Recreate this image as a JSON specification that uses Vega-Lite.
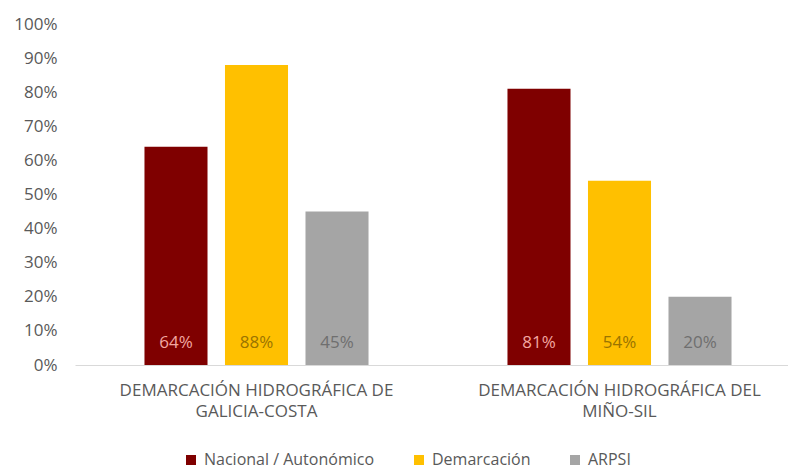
{
  "$schema": "https://vega.github.io/schema/vega-lite/v6.json",
  "width": 713,
  "height": 341,
  "autosize": {"type": "none"},
  "padding": {"left": 75, "top": 24, "right": 0, "bottom": 107},
  "background": "white",
  "config": {
    "view": {"stroke": null},
    "font": "Open Sans",
    "axisY": {
      "title": null,
      "domain": false,
      "ticks": false,
      "grid": false,
      "values": [0, 0.1, 0.2, 0.3, 0.4, 0.5, 0.6, 0.7, 0.8, 0.9, 1],
      "format": ".0%",
      "labelPadding": 18,
      "labelFontSize": 17,
      "labelColor": "#595959"
    }
  },
  "data": {
    "values": [
      {"region": "DEMARCACIÓN HIDROGRÁFICA DE GALICIA-COSTA", "serie": "Nacional / Autonómico", "value": 0.64},
      {"region": "DEMARCACIÓN HIDROGRÁFICA DE GALICIA-COSTA", "serie": "Demarcación", "value": 0.88},
      {"region": "DEMARCACIÓN HIDROGRÁFICA DE GALICIA-COSTA", "serie": "ARPSI", "value": 0.45},
      {"region": "DEMARCACIÓN HIDROGRÁFICA DEL MIÑO-SIL", "serie": "Nacional / Autonómico", "value": 0.81},
      {"region": "DEMARCACIÓN HIDROGRÁFICA DEL MIÑO-SIL", "serie": "Demarcación", "value": 0.54},
      {"region": "DEMARCACIÓN HIDROGRÁFICA DEL MIÑO-SIL", "serie": "ARPSI", "value": 0.20}
    ]
  },
  "encoding": {
    "x": {
      "field": "region",
      "type": "nominal",
      "sort": ["DEMARCACIÓN HIDROGRÁFICA DE GALICIA-COSTA", "DEMARCACIÓN HIDROGRÁFICA DEL MIÑO-SIL"],
      "scale": {"range": [0, 726], "paddingInner": 0, "paddingOuter": 0},
      "axis": {
        "title": null,
        "labelAngle": 0,
        "domain": true,
        "domainColor": "#d9d9d9",
        "domainWidth": 1,
        "ticks": false,
        "grid": false,
        "labelPadding": 17,
        "labelFontSize": 17,
        "labelColor": "#595959",
        "labelLineHeight": 21,
        "labelBaseline": "top",
        "labelLimit": 400,
        "labelExpr": "datum.label == 'DEMARCACIÓN HIDROGRÁFICA DE GALICIA-COSTA' ? ['DEMARCACIÓN HIDROGRÁFICA DE', 'GALICIA-COSTA'] : ['DEMARCACIÓN HIDROGRÁFICA DEL', 'MIÑO-SIL']"
      }
    },
    "xOffset": {
      "field": "serie",
      "type": "nominal",
      "sort": ["Nacional / Autonómico", "Demarcación", "ARPSI"],
      "scale": {"paddingInner": 0.217, "paddingOuter": 0.863}
    }
  },
  "layer": [
    {
      "mark": {"type": "bar"},
      "encoding": {
        "y": {
          "field": "value",
          "type": "quantitative",
          "scale": {"domain": [0, 1]}
        },
        "color": {
          "field": "serie",
          "type": "nominal",
          "sort": ["Nacional / Autonómico", "Demarcación", "ARPSI"],
          "scale": {"domain": ["Nacional / Autonómico", "Demarcación", "ARPSI"], "range": ["#7f0000", "#ffc000", "#a5a5a5"]},
          "legend": {
            "title": null,
            "orient": "none",
            "direction": "horizontal",
            "legendX": 108,
            "legendY": 428,
            "symbolType": "square",
            "symbolSize": 100,
            "symbolStrokeWidth": 0,
            "labelFontSize": 16,
            "labelColor": "#595959",
            "labelOffset": 5,
            "labelLimit": 300,
            "columnPadding": 36
          }
        }
      }
    },
    {
      "mark": {"type": "text", "dy": -22, "fontSize": 17, "baseline": "middle"},
      "encoding": {
        "y": {"datum": 0, "type": "quantitative"},
        "text": {"field": "value", "type": "quantitative", "format": ".0%"},
        "color": {
          "field": "serie",
          "type": "nominal",
          "scale": {"domain": ["Nacional / Autonómico", "Demarcación", "ARPSI"], "range": ["#f2a7a0", "#9a7400", "#6f6f6f"]},
          "legend": null
        }
      }
    }
  ],
  "resolve": {"scale": {"color": "independent"}}
}
